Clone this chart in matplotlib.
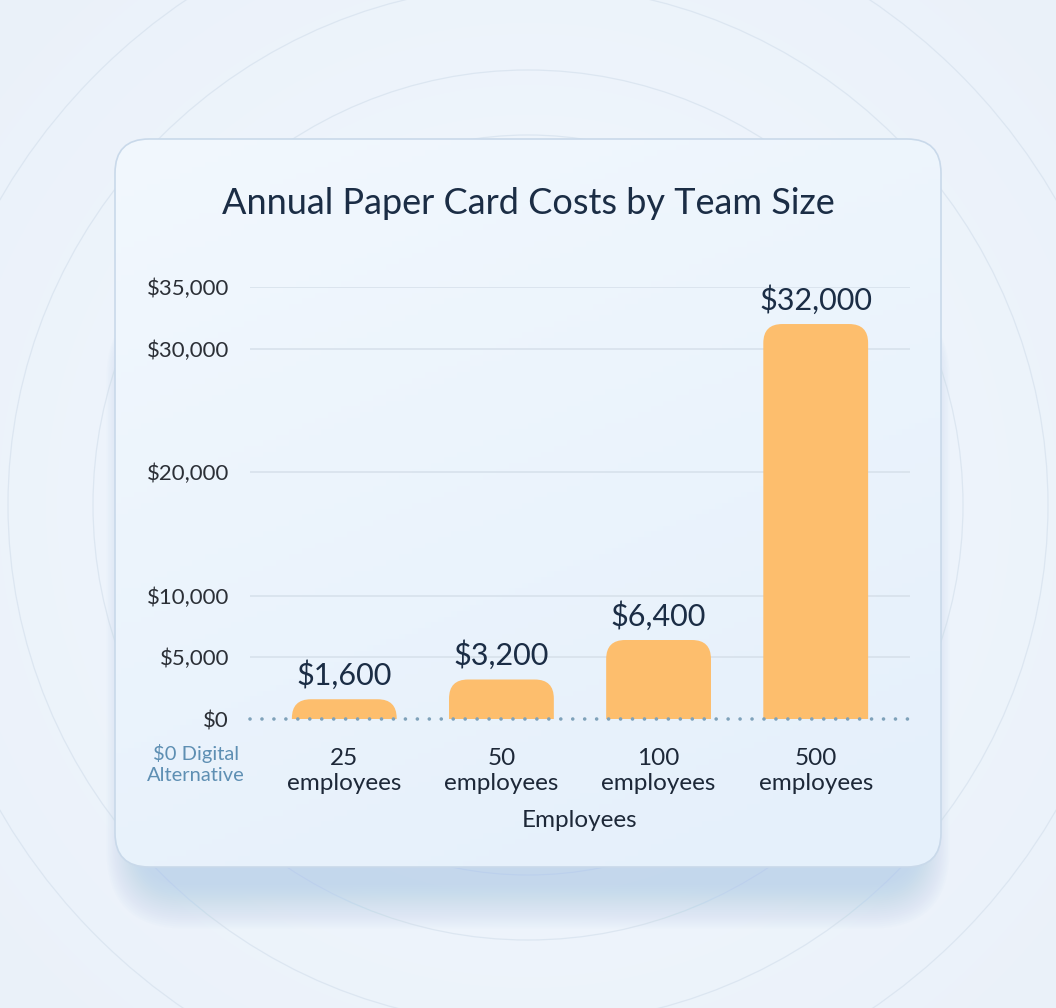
import numpy as np
import matplotlib
matplotlib.use("Agg")
import matplotlib.pyplot as plt
from matplotlib.patches import FancyBboxPatch, Circle

# ---- data ----
categories = ["25\nemployees", "50\nemployees", "100\nemployees", "500\nemployees"]
costs = [1600, 3200, 6400, 32000]
value_labels = ["$1,600", "$3,200", "$6,400", "$32,000"]
yticks = [0, 5000, 10000, 20000, 30000, 35000]
ytick_labels = ["$0", "$5,000", "$10,000", "$20,000", "$30,000", "$35,000"]
title = "Annual Paper Card Costs by Team Size"
xlabel = "Employees"
note = "$0 Digital\nAlternative"

plt.rcParams['font.family'] = ['Lato', 'DejaVu Sans']

W, H = 1056, 1008
fig = plt.figure(figsize=(W / 100, H / 100), dpi=100)

# ---- background ----
bg = fig.add_axes([0, 0, 1, 1])
bg.set_xlim(0, W)
bg.set_ylim(H, 0)
bg.axis("off")
yy, xx = np.mgrid[0:H, 0:W]
cx, cy = 528, 505
r = np.hypot(xx - cx, yy - cy)
grad = np.clip(r / 750.0, 0, 1)
c_in = np.array([0.950, 0.972, 0.995])
c_out = np.array([0.918, 0.945, 0.978])
img = c_in[None, None, :] * (1 - grad[..., None]) + c_out[None, None, :] * grad[..., None]
bg.imshow(img, extent=(0, W, H, 0), zorder=0)
for rad in [370, 435, 520, 610]:
    bg.add_patch(Circle((cx, cy), rad, fill=False, ec="#DCE6F1", lw=0.9, zorder=1))

# soft card shadow (mostly below the card)
n = 22
for i in range(n):
    grow = i * 1.6
    sh = FancyBboxPatch((140 - grow, 300), 776 + 2 * grow, 585 + grow * 1.3,
                        boxstyle="round,pad=0,rounding_size=%f" % (45 + grow),
                        fc="#A9C8EC", ec="none", alpha=0.03, zorder=2)
    bg.add_patch(sh)

# card
card = FancyBboxPatch((115, 139), 826, 728, boxstyle="round,pad=0,rounding_size=34",
                      fc="#EEF5FD", ec="none", zorder=3)
bg.add_patch(card)
gy, gx = np.mgrid[0:128, 0:128] / 127.0
t = np.clip(0.75 * gy + 0.35 * gx, 0, 1)
top_c = np.array([0.948, 0.972, 0.995])
bot_c = np.array([0.900, 0.942, 0.985])
cimg = top_c[None, None, :] * (1 - t[..., None]) + bot_c[None, None, :] * t[..., None]
im2 = bg.imshow(cimg, extent=(115, 941, 867, 139), zorder=3.5, aspect="auto")
im2.set_clip_path(card)
edge = FancyBboxPatch((115, 139), 826, 728, boxstyle="round,pad=0,rounding_size=34",
                      fc="none", ec="#C9D9EA", lw=1.2, zorder=4)
bg.add_patch(edge)

bg.text(528, 203, title, ha="center", va="center", fontsize=26,
        color="#1B2D45", zorder=5)
bg.text(196, 764, note, ha="center", va="center", fontsize=14.5,
        color="#5E8FB3", linespacing=1.25, zorder=5)

# ---- chart axes ----
x0, x1 = 250, 910
yb, yt = 719, 287
ax = fig.add_axes([x0 / W, 1 - yb / H, (x1 - x0) / W, (yb - yt) / H])
ax.patch.set_alpha(0)
ax.set_xlim(-0.6, 3.6)
ax.set_ylim(0, 35000)
for s in ax.spines.values():
    s.set_visible(False)

ax.set_yticks(yticks)
ax.set_yticklabels(ytick_labels)
ax.tick_params(axis="y", length=0, pad=15, labelsize=16, labelcolor="#2B2F36")
ax.set_xticks(range(len(categories)))
ax.set_xticklabels(categories, linespacing=1.25)
ax.tick_params(axis="x", length=0, pad=21, labelsize=17.5, labelcolor="#1D2838")
ax.set_xlabel(xlabel, fontsize=17.5, color="#1D2838", labelpad=11)

for v in yticks[1:]:
    ax.axhline(v, color="#D6E0EA", lw=1.1, zorder=1)

# rounded-top bars
fig.canvas.draw()
bar_w = 0.667
px_per_x = ax.transData.transform((1, 0))[0] - ax.transData.transform((0, 0))[0]
px_per_y = ax.transData.transform((0, 1000))[1] - ax.transData.transform((0, 0))[1]
rad_px = 19
rx = rad_px / px_per_x
aspect = (rad_px / px_per_y * 1000) / rx
for i, v in enumerate(costs):
    ext = 4000
    p = FancyBboxPatch((i - bar_w / 2, -ext), bar_w, v + ext,
                       boxstyle=f"round,pad=0,rounding_size={rx}",
                       mutation_aspect=aspect, fc="#FDBE6D", ec="none", zorder=2)
    ax.add_patch(p)
    ax.annotate(value_labels[i], (i, v), xytext=(0, 7), textcoords="offset points",
                ha="center", va="bottom", fontsize=22, color="#1B2D45",
                annotation_clip=False, zorder=5)

ax.axhline(0, color="#7FA2BA", lw=2.6, linestyle=(0, (0.01, 3.3)),
           dash_capstyle="round", zorder=3, clip_on=False)

fig.savefig("out.png", dpi=100)
